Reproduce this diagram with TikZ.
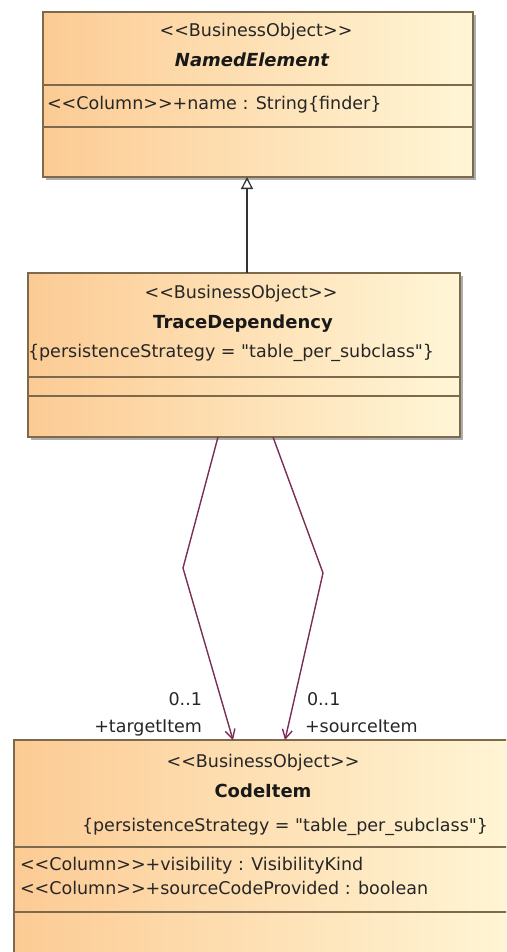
\documentclass[tikz,border=0pt]{standalone}
\usepackage{fontspec}
\setmainfont{DejaVu Sans}[Ligatures=TeXOff]
\usetikzlibrary{arrows.meta,shadows,calc}
\definecolor{boxL}{RGB}{252,203,148}
\definecolor{boxR}{RGB}{255,246,214}
\definecolor{framec}{RGB}{125,105,75}
\definecolor{assocc}{RGB}{122,45,85}
\newcommand\stL{<\kern0pt<}
\newcommand\stR{>\kern0pt>}
\begin{document}
\begin{tikzpicture}[x=1pt,y=-1pt,
 classbox/.style={draw=framec, line width=1.3pt, left color=boxL, right color=boxR,
   inner sep=0pt, outer sep=0pt,
   drop shadow={shadow xshift=3pt, shadow yshift=-3pt, fill=black!45, opacity=0.7}},
 txt/.style={inner sep=0pt, outer sep=0pt, font=\fontsize{17.5}{20}\selectfont, text=black!85},
 ttl/.style={inner sep=0pt, outer sep=0pt, font=\fontsize{18}{20}\selectfont\bfseries, text=black!90},
 divider/.style={draw=framec, line width=1.3pt},
 assocline/.style={draw=assocc, line width=1.4pt, -{Straight Barb[length=9pt,width=10pt]}},
 genline/.style={draw=black!80, line width=1.3pt, -{Triangle[open,length=12pt,width=12pt,fill=white]}}
]
\useasboundingbox (0,0) rectangle (506,952);
\clip (0,0) rectangle (506,952);

% NamedElement
\node[classbox, minimum width=430pt, minimum height=165pt] (ne) at (258,94.5) {};
\draw[divider] (43,85) -- (473,85);
\draw[divider] (43,127) -- (473,127);
\node[txt, anchor=base] (ne1) at (256,37) {\stL BusinessObject\stR};
\node[ttl, anchor=base, font=\fontsize{18}{20}\selectfont\bfseries\itshape] (ne2) at (252,67) {NamedElement};
\node[txt, anchor=base west] (ne3) at (47,110) {\stL Column\stR+name : String\{finder\}};

% TraceDependency
\node[classbox, minimum width=432pt, minimum height=164pt] (tr) at (244,355) {};
\draw[divider] (28,377) -- (460,377);
\draw[divider] (28,396) -- (460,396);
\node[txt, anchor=base] (tr1) at (241,298) {\stL BusinessObject\stR};
\node[ttl, anchor=base] (tr2) at (243,328) {TraceDependency};
\node[txt, anchor=base west] (tr3) at (28,357) {\{persistenceStrategy = "table\_per\_subclass"\}};

% CodeItem
\node[classbox, minimum width=506pt, minimum height=230pt] (ci) at (267,855) {};
\draw[divider] (14,847) -- (520,847);
\draw[divider] (14,912) -- (520,912);
\node[txt, anchor=base] (ci1) at (263,767) {\stL BusinessObject\stR};
\node[ttl, anchor=base] (ci2) at (263,797) {CodeItem};
\node[txt, anchor=base west] (ci3) at (82,831) {\{persistenceStrategy = "table\_per\_subclass"\}};
\node[txt, anchor=base west] (ci4) at (20,870) {\stL Column\stR+visibility : VisibilityKind};
\node[txt, anchor=base west] (ci5) at (20,894) {\stL Column\stR+sourceCodeProvided : boolean};

% generalization
\draw[genline] ($(tr.north west)+(219,0)$) -- ($(ne.south west)+(204,0)$);

% associations
\coordinate (b1) at (183,568);
\coordinate (b2) at (323,573);
\draw[assocline] ($(tr.south west)+(190,0)$) -- (b1) -- ($(ci.north west)+(219,0)$);
\draw[assocline] ($(tr.south west)+(245,0)$) -- (b2) -- ($(ci.north west)+(271,0)$);

% role labels
\node[txt, anchor=base east] (m1) at (202,705) {0..1};
\node[txt, anchor=base east] (r1) at (202,732) {+targetItem};
\node[txt, anchor=base west] (m2) at (307,705) {0..1};
\node[txt, anchor=base west] (r2) at (305,732) {+sourceItem};
\end{tikzpicture}
\end{document}
